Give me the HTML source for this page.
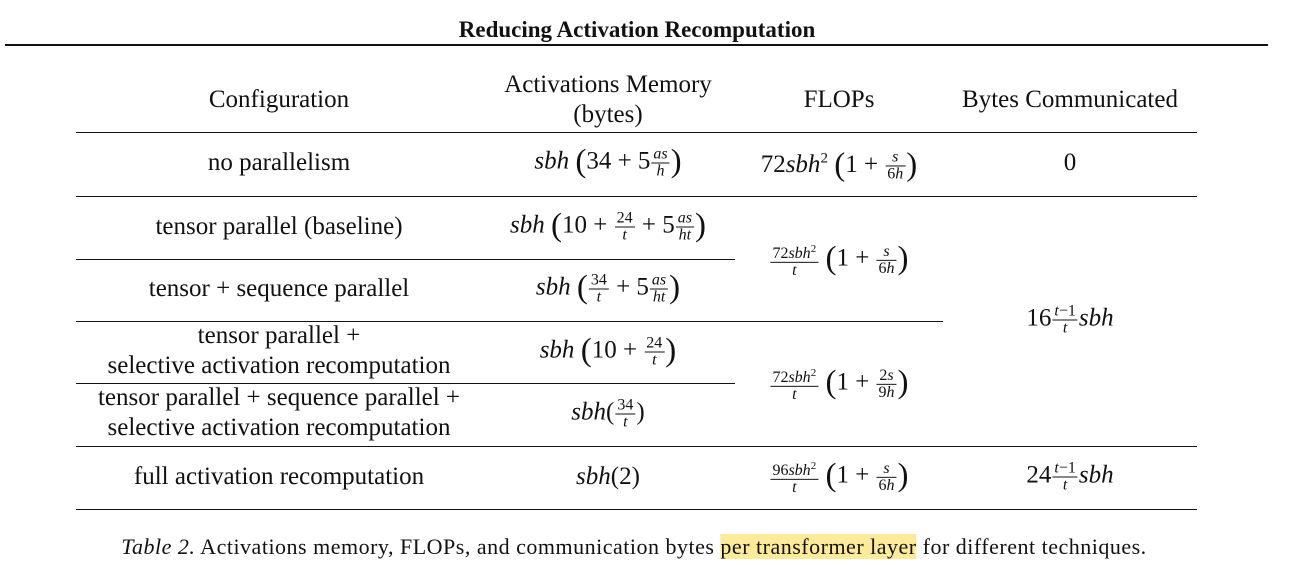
<!DOCTYPE html>
<html><head><meta charset="utf-8"><style>
body{margin:0;width:1304px;height:565px;background:#fff;position:relative;font-family:"Liberation Serif",serif;color:#111;overflow:hidden}
.c{position:absolute;transform:translate(-50%,-50%);white-space:nowrap;font-size:25px;text-align:center;line-height:30px}
.h{position:absolute;background:#111;height:1px}
i{font-style:italic}
.f{display:inline-block;vertical-align:middle;text-align:center;font-size:16px;line-height:16px;margin:0 1px}
.f>span{display:block;padding:0 2px}
.f>span:first-child{border-bottom:1px solid #111}
.p{font-size:33px;vertical-align:-3px;font-weight:200}
</style></head><body>
<div class="c" style="left:637px;top:30px;font-weight:bold;font-size:23px">Reducing Activation Recomputation</div>
<div class="h" style="left:5px;top:44px;width:1263px;height:2px"></div>

<div class="c" style="left:279px;top:100px">Configuration</div>
<div class="c" style="left:608px;top:100px">Activations Memory<br>(bytes)</div>
<div class="c" style="left:839px;top:100px">FLOPs</div>
<div class="c" style="left:1070px;top:100px">Bytes Communicated</div>

<div class="h" style="left:76px;top:132px;width:1121px"></div>
<div class="h" style="left:76px;top:196px;width:1121px"></div>
<div class="h" style="left:76px;top:259px;width:659px"></div>
<div class="h" style="left:76px;top:321px;width:867px"></div>
<div class="h" style="left:76px;top:383px;width:659px"></div>
<div class="h" style="left:76px;top:446px;width:1121px"></div>
<div class="h" style="left:76px;top:509px;width:1121px"></div>

<div class="c" style="left:279px;top:163px">no parallelism</div>
<div class="c" style="left:608px;top:163px"><i>sbh</i> <span class="p">(</span>34 + 5<span class="f"><span><i>as</i></span><span><i>h</i></span></span><span class="p">)</span></div>
<div class="c" style="left:839px;top:163px">72<i>sbh</i><sup style="font-size:15px">2</sup> <span class="p">(</span>1 + <span class="f"><span><i>s</i></span><span>6<i>h</i></span></span><span class="p">)</span></div>
<div class="c" style="left:1070px;top:163px">0</div>

<div class="c" style="left:279px;top:227px">tensor parallel (baseline)</div>
<div class="c" style="left:608px;top:227px"><i>sbh</i> <span class="p">(</span>10 + <span class="f"><span>24</span><span><i>t</i></span></span> + 5<span class="f"><span><i>as</i></span><span><i>ht</i></span></span><span class="p">)</span></div>
<div class="c" style="left:279px;top:289px">tensor + sequence parallel</div>
<div class="c" style="left:608px;top:289px"><i>sbh</i> <span class="p">(</span><span class="f"><span>34</span><span><i>t</i></span></span> + 5<span class="f"><span><i>as</i></span><span><i>ht</i></span></span><span class="p">)</span></div>
<div class="c" style="left:839px;top:260px"><span class="f"><span>72<i>sbh</i><sup style="font-size:11px">2</sup></span><span><i>t</i></span></span> <span class="p">(</span>1 + <span class="f"><span><i>s</i></span><span>6<i>h</i></span></span><span class="p">)</span></div>

<div class="c" style="left:279px;top:351px">tensor parallel +<br>selective activation recomputation</div>
<div class="c" style="left:608px;top:352px"><i>sbh</i> <span class="p">(</span>10 + <span class="f"><span>24</span><span><i>t</i></span></span><span class="p">)</span></div>
<div class="c" style="left:279px;top:413px">tensor parallel + sequence parallel +<br>selective activation recomputation</div>
<div class="c" style="left:608px;top:414px"><i>sbh</i>(<span class="f"><span>34</span><span><i>t</i></span></span>)</div>
<div class="c" style="left:839px;top:384px"><span class="f"><span>72<i>sbh</i><sup style="font-size:11px">2</sup></span><span><i>t</i></span></span> <span class="p">(</span>1 + <span class="f"><span>2<i>s</i></span><span>9<i>h</i></span></span><span class="p">)</span></div>
<div class="c" style="left:1070px;top:320px">16<span class="f"><span><i>t</i>−1</span><span><i>t</i></span></span><i>sbh</i></div>

<div class="c" style="left:279px;top:477px">full activation recomputation</div>
<div class="c" style="left:608px;top:477px"><i>sbh</i>(2)</div>
<div class="c" style="left:839px;top:477px"><span class="f"><span>96<i>sbh</i><sup style="font-size:11px">2</sup></span><span><i>t</i></span></span> <span class="p">(</span>1 + <span class="f"><span><i>s</i></span><span>6<i>h</i></span></span><span class="p">)</span></div>
<div class="c" style="left:1070px;top:477px">24<span class="f"><span><i>t</i>−1</span><span><i>t</i></span></span><i>sbh</i></div>

<div class="c" style="left:634px;top:547px;font-size:22px;letter-spacing:0.5px"><i>Table 2.</i> Activations memory, FLOPs, and communication bytes <span style="background:#fdeb9a">per transformer layer</span> for different techniques.</div>
</body></html>
